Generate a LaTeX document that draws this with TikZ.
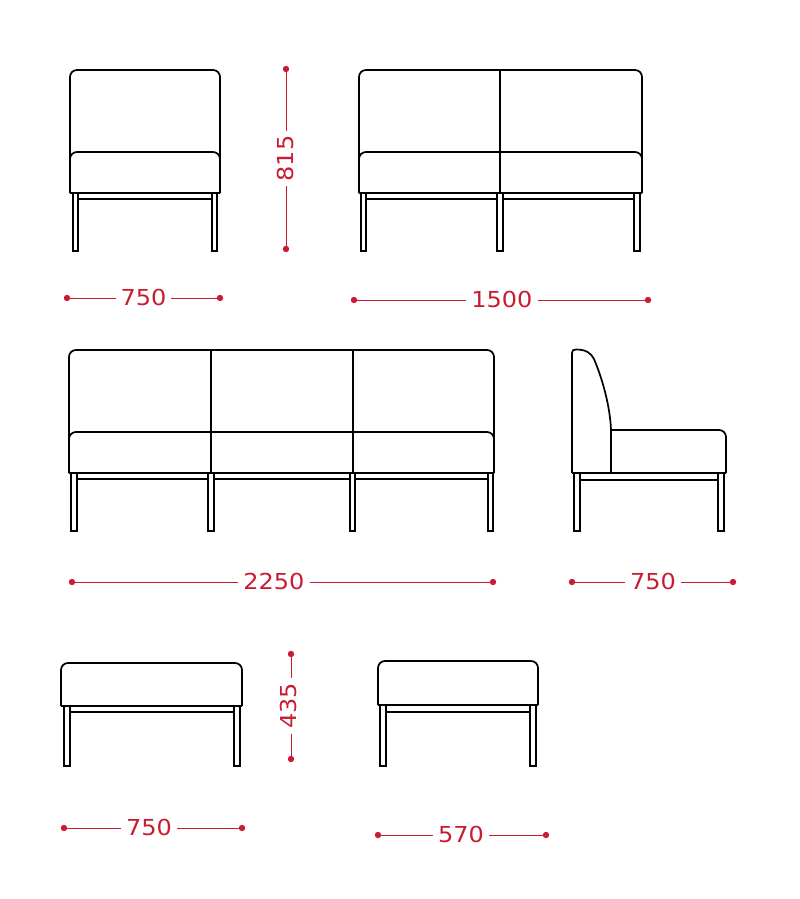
\documentclass[tikz,border=0pt]{standalone}
\usepackage{fontspec}
\setmainfont{DejaVu Sans}[FakeStretch=1.09]
\definecolor{dimred}{RGB}{200,28,50}
\tikzset{
  body/.style={line width=1.7pt,black,rounded corners=7pt},
  part/.style={line width=1.7pt,black},
  leg/.style={line width=1.2pt,black},
  dim/.style={line width=1pt,dimred},
  size/.style={dimred,font=\fontsize{22}{22}\selectfont,inner sep=0pt,outer sep=5pt}
}
\begin{document}
\begin{tikzpicture}[x=1pt,y=-1pt]
\useasboundingbox (0,0) rectangle (800,899);
% one seat, front
\draw[body] (70,193) -- (70,70) -- (220,70) -- (220,193);
\draw[body] (70,193) -- (70,152) -- (220,152) -- (220,193);
\draw[part] (70,193) -- (220,193);
\foreach \a/\b in {73/78,212/217}
{
	\draw[leg] (\a,193) -- (\a,251) -- (\b,251) -- (\b,193);
	\fill (\a,249.5) rectangle (\b,251.5);
}
\draw[leg] (78,199) -- (212,199);
% two seats, front
\draw[body] (359,193) -- (359,70) -- (642,70) -- (642,193);
\draw[body] (359,193) -- (359,152) -- (642,152) -- (642,193);
\draw[part] (359,193) -- (642,193);
\draw[part] (500,70) -- (500,193);
\foreach \a/\b in {361/366,497/503,634/640}
{
	\draw[leg] (\a,193) -- (\a,251) -- (\b,251) -- (\b,193);
	\fill (\a,249.5) rectangle (\b,251.5);
}
\draw[leg] (366,199) -- (497,199);
\draw[leg] (503,199) -- (634,199);
% three seats, front
\draw[body] (69,473) -- (69,350) -- (494,350) -- (494,473);
\draw[body] (69,473) -- (69,432) -- (494,432) -- (494,473);
\draw[part] (69,473) -- (494,473);
\foreach \a in {211,353}
	\draw[part] (\a,350) -- (\a,473);
\foreach \a/\b in {71/77,208/214,350/355,488/493}
{
	\draw[leg] (\a,473) -- (\a,531) -- (\b,531) -- (\b,473);
	\fill (\a,529.5) rectangle (\b,531.5);
}
\draw[leg] (77,479) -- (208,479);
\draw[leg] (214,479) -- (350,479);
\draw[leg] (355,479) -- (488,479);
% side view
\draw[part,line join=round] (572,473) -- (572,353) .. controls (572,350.5) and (573,349.5) .. (576,349.5) .. controls (586,349.5) and (591,353) .. (594,359) .. controls (602,378) and (610,405) .. (611,430) -- (611,473);
\draw[body] (611,430) -- (726,430) -- (726,473);
\draw[part] (572,473) -- (726,473);
\foreach \a/\b in {574/580,718/724}
{
	\draw[leg] (\a,473) -- (\a,531) -- (\b,531) -- (\b,473);
	\fill (\a,529.5) rectangle (\b,531.5);
}
\draw[leg] (580,480) -- (718,480);
% bench, front
\draw[body] (61,706) -- (61,663) -- (242,663) -- (242,706);
\draw[part] (61,706) -- (242,706);
\foreach \a/\b in {64/70,234/240}
{
	\draw[leg] (\a,706) -- (\a,766.5) -- (\b,766.5) -- (\b,706);
	\fill (\a,765) rectangle (\b,767);
}
\draw[leg] (70,712) -- (234,712);
% bench, side
\draw[body] (378,705) -- (378,661) -- (538,661) -- (538,705);
\draw[part] (378,705) -- (538,705);
\foreach \a/\b in {380/386,530/536}
{
	\draw[leg] (\a,705) -- (\a,766) -- (\b,766) -- (\b,705);
	\fill (\a,764.5) rectangle (\b,766.5);
}
\draw[leg] (386,712) -- (530,712);
% sizes
\node[size] (wa) at (143.5,297) {750};
\node[size,rotate=90] (ha) at (285,158.5) {815};
\node[size] (wb) at (502,299) {1500};
\node[size] (wc) at (274,581) {2250};
\node[size] (wd) at (653,581) {750};
\node[size,rotate=90] (hb) at (288,706) {435};
\node[size] (we) at (149,827) {750};
\node[size] (wf) at (461,834) {570};
\coordinate (wa1) at (67,298);
\coordinate (wa2) at (220,298);
\coordinate (ha1) at (286,69);
\coordinate (ha2) at (286,249);
\coordinate (wb1) at (354,300);
\coordinate (wb2) at (648,300);
\coordinate (wc1) at (72,582);
\coordinate (wc2) at (493,582);
\coordinate (wd1) at (572,582);
\coordinate (wd2) at (733,582);
\coordinate (hb1) at (291,654);
\coordinate (hb2) at (291,759);
\coordinate (we1) at (64,828);
\coordinate (we2) at (242,828);
\coordinate (wf1) at (378,835);
\coordinate (wf2) at (546,835);
\foreach \p in {wa,wb,wc,wd,we,wf}
{
	\draw[dim] (\p1) -- (\p1-|\p.west);
	\draw[dim] (\p.east|-\p2) -- (\p2);
	\fill[dimred] (\p1) circle (3.2pt);
	\fill[dimred] (\p2) circle (3.2pt);
}
\foreach \p in {ha,hb}
{
	\draw[dim] (\p1) -- (\p1|-\p.east);
	\draw[dim] (\p1|-\p.west) -- (\p2);
	\fill[dimred] (\p1) circle (3.2pt);
	\fill[dimred] (\p2) circle (3.2pt);
}
\end{tikzpicture}
\end{document}
